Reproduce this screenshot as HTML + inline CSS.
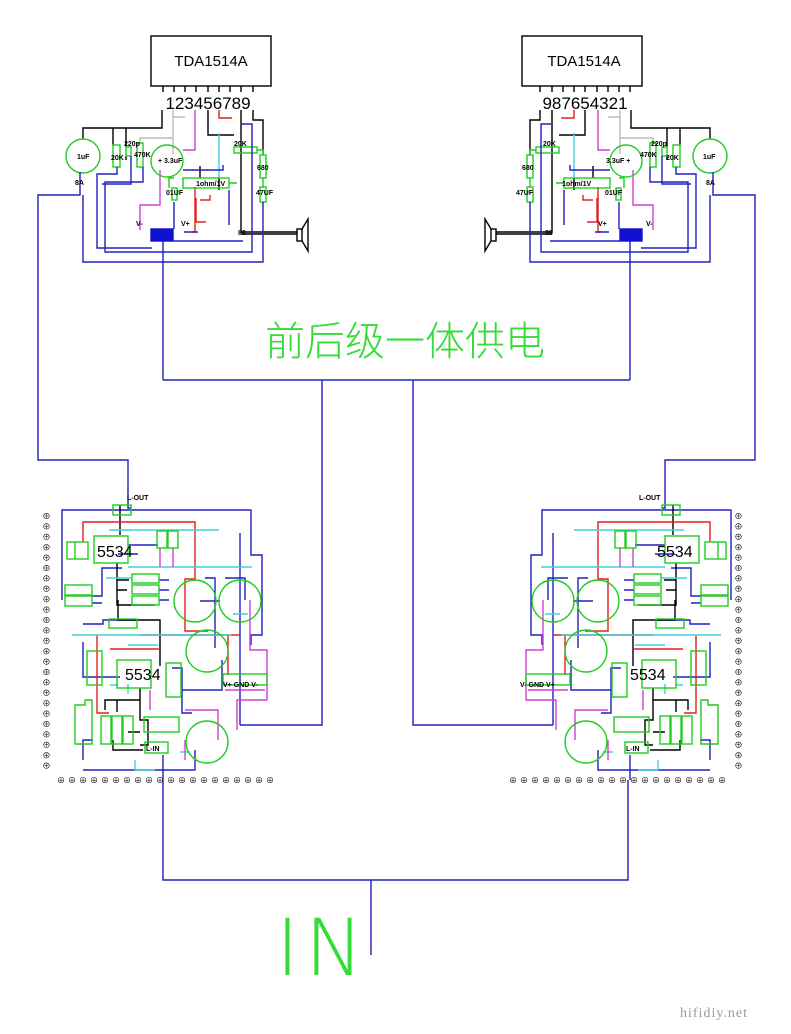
<!DOCTYPE html>
<html><head><meta charset="utf-8"><style>
html,body{margin:0;padding:0;background:#fff}
svg{display:block}
text{font-family:"Liberation Sans","Noto Sans CJK SC",sans-serif}
</style></head><body>
<svg width="791" height="1034" viewBox="0 0 791 1034" xmlns="http://www.w3.org/2000/svg">
<defs>
<g id="M" fill="none" stroke-width="1.4">
 <rect x="151" y="36" width="120" height="50" stroke="#000"/>
 <g stroke="#000">
  <path d="M163 86v6M174 86v6M185 86v6M196 86v6M208 86v6M219 86v6M230 86v6M241 86v6M253 86v6"/>
  <path d="M162 110v18H83v11M113 128v17M126 128v19M126 156v4"/>
  <path d="M208 110v25h26M253 110v10h10v35"/>
  <path d="M241 110v122h56M241 234h56"/>
  <path d="M219 178v12M200 178v-12"/>
 </g>
 <path d="M173 110v7h12M173 117v21h-33v5M173 138v16" stroke="#bbb"/>
 <path d="M195 110v40h-12M160 190v15h-20v25M160 190v-20" stroke="#d040d0"/>
 <path d="M219 110v8h13" stroke="#e02020"/>
 <path d="M219 133v45" stroke="#40d0e0"/>
 <path d="M195 187v45h-3M210 195v5h-10M196 198v24h10" stroke="#e02020"/>
 <g stroke="#20cc20">
  <circle cx="83" cy="156" r="17"/><circle cx="167" cy="161" r="16"/>
  <rect x="113" y="145" width="7" height="22"/><rect x="126" y="147" width="5" height="9"/>
  <rect x="137" y="143" width="6" height="24"/>
  <rect x="234" y="147" width="23" height="6"/>
  <rect x="260" y="155" width="6" height="23"/><rect x="260" y="187" width="6" height="15"/>
  <rect x="183" y="178" width="46" height="10"/><rect x="172" y="188" width="5" height="12"/>
  <path d="M174 178h-5v10M229 183h8M257 150h6v5M263 178v9"/>
 </g>
 <rect x="151" y="229" width="22" height="12" fill="#1010d0" stroke="#1010d0"/>
 <rect x="297" y="229" width="5" height="12" stroke="#000"/>
 <path d="M302 229l6-10v32l-6-10" stroke="#000"/>
 <g stroke="#2020c0">
  <path d="M80 172v23H38v265h90v30"/>
  <path d="M117 167v7H97v74h55M131 156v28h-29"/>
  <path d="M143 167v15h-38v70h147v-128h-10M263 202v60H83v-67"/>
  <path d="M163 241v139"/>
  <path d="M183 170h40v-5M229 190v35M173 241h70"/>
  <path d="M174 202v27M184 232h14"/>
 </g>
 <g stroke="#2020c0">
  <path d="M62 600v-90h189v45h11v80h-11v10"/>
  <path d="M240 533v192"/>
  <path d="M131 508h-3v-18"/>
  <path d="M128 545h30M118 554h20"/>
  <path d="M92 596h10v-28h20M92 603h10"/>
  <path d="M159 580h10M159 590h10M159 600h10"/>
  <path d="M83 770h112v-20M83 760v-20h10"/>
  <path d="M83 642v35h37M83 624h20v-4h35"/>
  <path d="M172 668h10v45h10M182 690h40v-30"/>
  <path d="M163 755v25"/>
  <path d="M205 578h10v70M225 578h20v22M200 601h20"/>
 </g>
 <g stroke="#000">
  <path d="M117 563v42h38M117 590h10M117 580h12"/>
  <path d="M120 505v30M118 600v20h42v46"/>
  <path d="M140 688v12h-35v10M117 700v12M140 700v20h8v25h-8M113 740v10h30M128 732h12"/>
 </g>
 <g stroke="#e02020">
  <path d="M83 542v-20h112v57h-10v52h23"/>
  <path d="M97 635v78h12M110 649h50M140 635h100"/>
  <path d="M228 635v40"/>
 </g>
 <g stroke="#40d0e0">
  <path d="M128 567h124M109 530h110M106 578h25M72 635h160M128 645h30M128 684v10M180 752h10M135 760v10h20M233 614h15M110 685h8"/>
 </g>
 <g stroke="#d040d0">
  <path d="M160 548v19M173 548v19M250 600v50h17v50h-30v30"/>
  <path d="M150 690v20M185 710h33v30M185 760v-20M225 690h40"/>
 </g>
 <g stroke="#20cc20">
  <rect x="94" y="536" width="34" height="27"/>
  <rect x="157" y="531" width="10" height="17"/><rect x="168" y="531" width="10" height="17"/>
  <rect x="67" y="542" width="21" height="17"/><path d="M75 542v17"/>
  <rect x="113" y="505" width="18" height="10"/>
  <rect x="65" y="585" width="27" height="10"/><rect x="65" y="596" width="27" height="10"/>
  <rect x="132" y="574" width="27" height="9"/><rect x="132" y="585" width="27" height="9"/><rect x="132" y="596" width="27" height="9"/>
  <circle cx="195" cy="601" r="21"/><circle cx="240" cy="601" r="21"/>
  <circle cx="207" cy="651" r="21"/><circle cx="207" cy="742" r="21"/>
  <rect x="117" y="660" width="34" height="28"/>
  <rect x="109" y="619" width="28" height="9"/>
  <rect x="87" y="651" width="15" height="34"/>
  <rect x="166" y="663" width="15" height="34"/>
  <rect x="223" y="674" width="44" height="11"/>
  <path d="M75 705h10v-5h7v44h-17z"/>
  <rect x="101" y="716" width="10" height="28"/><rect x="112" y="716" width="10" height="28"/><rect x="123" y="716" width="10" height="28"/>
  <rect x="144" y="717" width="35" height="15"/>
  <rect x="145" y="742" width="23" height="11"/>
 </g>
</g>
</defs>
<use href="#M"/>
<use href="#M" transform="translate(793,0) scale(-1,1)"/>
<path d="M163 380h467M322 380v345h-82M413 380v345h140M163 780v100h465v-100M371 880v75" fill="none" stroke="#2020c0" stroke-width="1.4"/>
<g font-size="15" fill="#000">
 <text x="211" y="66" text-anchor="middle">TDA1514A</text>
 <text x="584" y="66" text-anchor="middle">TDA1514A</text>
 <text x="208" y="109" text-anchor="middle" font-size="17" letter-spacing="0">123456789</text>
 <text x="585" y="109" text-anchor="middle" font-size="17" letter-spacing="0">987654321</text>
 <text x="97" y="557" font-size="16">5534</text>
 <text x="125" y="680" font-size="16">5534</text>
 <text x="657" y="557" font-size="16">5534</text>
 <text x="630" y="680" font-size="16">5534</text>
</g>
<g font-size="7" fill="#000" font-weight="bold">
 <text x="77" y="159">1uF</text><text x="703" y="159">1uF</text>
 <text x="75" y="185">8A</text><text x="706" y="185">8A</text>
 <text x="111" y="160">20K</text><text x="666" y="160">20K</text>
 <text x="124" y="146">220p</text><text x="651" y="146">220p</text>
 <text x="134" y="157">470K</text><text x="640" y="157">470K</text>
 <text x="158" y="163">+ 3.3uF</text><text x="606" y="163">3.3uF +</text>
 <text x="234" y="146">20K</text><text x="543" y="146">20K</text>
 <text x="257" y="170">680</text><text x="522" y="170">680</text>
 <text x="256" y="195">47UF</text><text x="516" y="195">47UF</text>
 <text x="196" y="186">1ohm/1V</text><text x="562" y="186">1ohm/1V</text>
 <text x="166" y="195">01UF</text><text x="605" y="195">01UF</text>
 <text x="136" y="226">V-</text><text x="646" y="226">V-</text>
 <text x="181" y="226">V+</text><text x="598" y="226">V+</text>
 <text x="238" y="235">88</text><text x="545" y="235">88</text>
 <text x="127" y="500">L-OUT</text><text x="639" y="500">L-OUT</text>
 <text x="223" y="687">V+ GND V-</text><text x="520" y="687">V- GND V+</text>
 <text x="146" y="751">L-IN</text><text x="626" y="751">L-IN</text>
</g>
<g font-size="8" fill="#000">
 <text x="46" y="512" writing-mode="tb" letter-spacing="2.4">⊕⊕⊕⊕⊕⊕⊕⊕⊕⊕⊕⊕⊕⊕⊕⊕⊕⊕⊕⊕⊕⊕⊕⊕⊕</text>
 <text x="738" y="512" writing-mode="tb" letter-spacing="2.4">⊕⊕⊕⊕⊕⊕⊕⊕⊕⊕⊕⊕⊕⊕⊕⊕⊕⊕⊕⊕⊕⊕⊕⊕⊕</text>
 <text x="57" y="783" letter-spacing="3">⊕⊕⊕⊕⊕⊕⊕⊕⊕⊕⊕⊕⊕⊕⊕⊕⊕⊕⊕⊕</text>
 <text x="509" y="783" letter-spacing="3">⊕⊕⊕⊕⊕⊕⊕⊕⊕⊕⊕⊕⊕⊕⊕⊕⊕⊕⊕⊕</text>
</g>
<text x="265" y="355" font-size="40" fill="#33dd33" style="font-family:'Noto Sans CJK SC',sans-serif" font-weight="300">前后级一体供电</text>
<text x="276" y="975" font-size="78" fill="#33dd33" letter-spacing="6" style="font-family:'DejaVu Sans',sans-serif;font-weight:200">IN</text>
<text x="680" y="1017" font-size="14" fill="#999" style="font-family:'Liberation Serif',serif" letter-spacing="1">hifidiy.net</text>
</svg>
</body></html>
